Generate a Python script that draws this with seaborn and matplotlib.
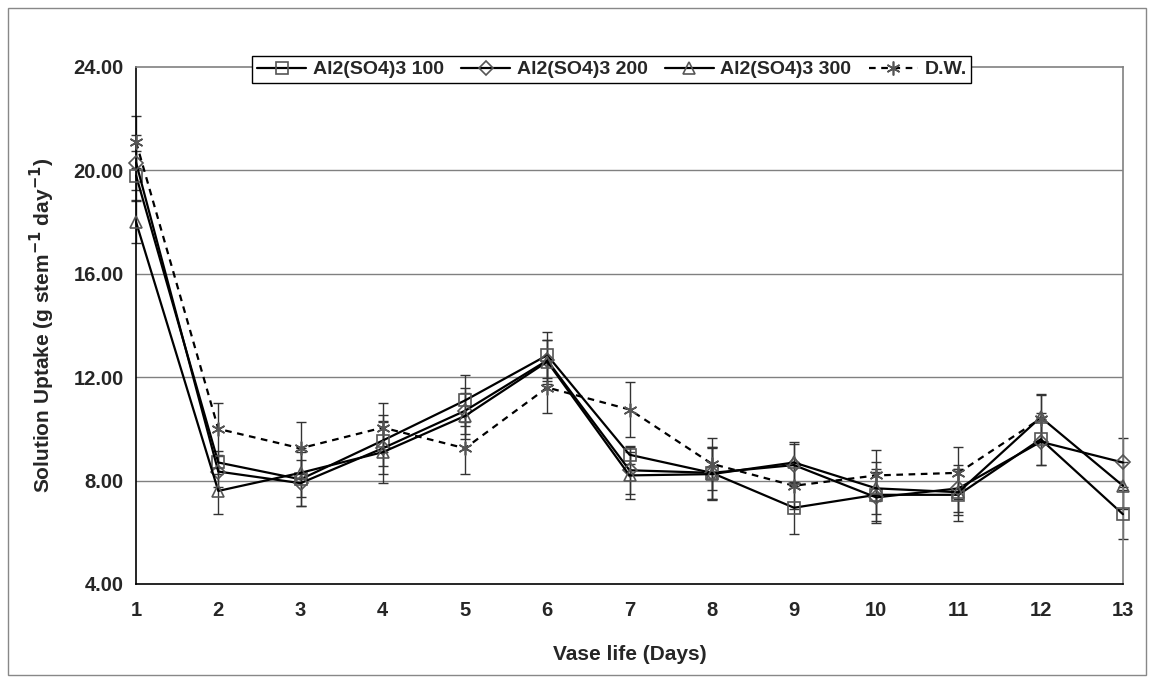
import numpy as np
import pandas as pd
import seaborn as sns
import matplotlib.pyplot as plt
import matplotlib.patches as mpatches

# values
days = list(range(1, 14))
al100 = [19.8, 8.7, 8.05, 9.55, 11.1, 12.85, 9.0, 8.3, 6.95, 7.45, 7.45, 9.6, 6.7]
al200 = [20.3, 8.35, 7.9, 9.25, 10.7, 12.65, 8.4, 8.3, 8.6, 7.35, 7.7, 9.5, 8.7]
al300 = [18.0, 7.6, 8.3, 9.1, 10.5, 12.6, 8.2, 8.25, 8.7, 7.7, 7.55, 10.45, 7.8]
dw = [21.1, 10.0, 9.25, 10.05, 9.25, 11.6, 10.75, 8.65, 7.8, 8.2, 8.3, 10.4, np.nan]

err100 = [0.95, 0.45, 1.05, 1.0, 1.0, 0.9, 0.35, 1.0, 1.0, 1.0, 1.0, 1.0, 0.95]
err200 = [1.05, 0.6, 0.9, 1.0, 0.9, 0.8, 0.9, 1.0, 0.8, 1.0, 0.9, 0.9, 0.95]
err300 = [0.8, 0.9, 0.95, 1.2, 0.9, 0.85, 0.9, 1.0, 0.8, 1.0, 0.9, 0.9, 0.9]
errdw = [1.0, 1.0, 1.0, 0.95, 1.0, 1.0, 1.05, 1.0, 0.9, 1.0, 1.0, 0.9, np.nan]

names = ['Al2(SO4)3 100', 'Al2(SO4)3 200', 'Al2(SO4)3 300', 'D.W.']
yticks = [4, 8, 12, 16, 20, 24]

series = [al100, al200, al300, dw]
errs = [err100, err200, err300, errdw]
markers = ['s', 'D', '^', (6, 2, 0)]
styles = ['-', '-', '-', (0, (3, 2.5))]
msizes = [8, 7, 8, 10]

sns.set_style('white')
plt.rcParams['font.family'] = ['Liberation Sans', 'DejaVu Sans']
plt.rcParams['font.weight'] = 'bold'

fig = plt.figure(figsize=(11.54, 6.82), dpi=100)
ax = fig.add_axes([0.1179, 0.1437, 0.8552, 0.7581])

# outer frame of the picture
fig.patches.append(mpatches.Rectangle((0.007, 0.01), 0.986, 0.978, transform=fig.transFigure,
                                      fill=False, edgecolor='#888888', lw=1))

for y in [8, 12, 16, 20]:
    ax.axhline(y, color='#808080', lw=1, zorder=0)

for vals, e in zip(series, errs):
    eb = ax.errorbar(days, vals, yerr=e, fmt='none', ecolor='#333333', elinewidth=1,
                     capsize=3.5, capthick=1, zorder=2)
    for art in eb.lines[1] + eb.lines[2]:
        art.set_clip_on(False)

for n, vals, m, ls, ms in zip(names, series, markers, styles, msizes):
    d = pd.DataFrame({'day': days, 'uptake': vals})
    sns.lineplot(data=d, x='day', y='uptake', ax=ax, color='black', lw=1.6,
                 linestyle=ls, marker=m, markersize=ms, markerfacecolor='none',
                 markeredgecolor='#555555', markeredgewidth=1.2, label=n, zorder=3,
                 clip_on=False)

ax.set_xlim(1, 13)
ax.set_ylim(4, 24)
ax.set_xticks(days)
ax.set_yticks(yticks)
ax.set_yticklabels([f'{t:.2f}' for t in yticks])
ax.tick_params(axis='both', direction='out', length=5, width=1, color='black',
               labelsize=14.5, pad=4)
ax.tick_params(axis='x', pad=7)
for lab in ax.get_xticklabels() + ax.get_yticklabels():
    lab.set_fontweight('bold')

ax.spines['left'].set_color('black')
ax.spines['bottom'].set_color('black')
ax.spines['top'].set_color('#808080')
ax.spines['right'].set_color('#808080')
for s in ax.spines.values():
    s.set_linewidth(1.2)

ax.set_xlabel('Vase life (Days)', fontsize=15, fontweight='bold', labelpad=18)
ax.set_ylabel('Solution Uptake (g stem$^{\\mathbf{-1}}$ day$^{\\mathbf{-1}}$)',
              fontsize=15, fontweight='bold', labelpad=12)

handles, labels = ax.get_legend_handles_labels()
leg = ax.legend(handles, labels, loc='center', bbox_to_anchor=(0.5303, 0.898),
                bbox_transform=fig.transFigure, ncol=4, frameon=True, fancybox=False,
                edgecolor='black', framealpha=1, fontsize=14, handlelength=2.5,
                handletextpad=0.35, columnspacing=0.9, borderpad=0.25,
                borderaxespad=0)
leg.get_frame().set_linewidth(1)
for t in leg.get_texts():
    t.set_fontweight('bold')

fig.savefig('out.png', dpi=100)
